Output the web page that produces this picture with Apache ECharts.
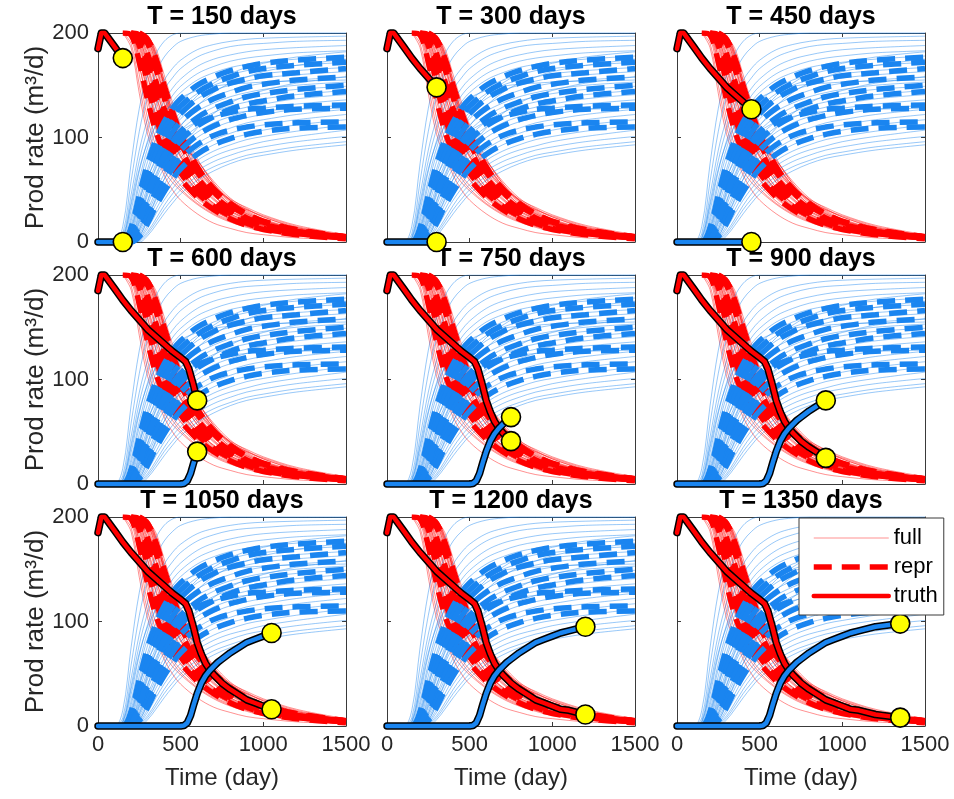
<!DOCTYPE html>
<html>
<head>
<meta charset="utf-8">
<script src="https://cdn.jsdelivr.net/npm/echarts@6/dist/echarts.min.js"></script>
<style>
  html, body { margin: 0; padding: 0; background: #ffffff; }
  #chart { width: 954px; height: 799px; }
</style>
</head>
<body>
<div id="chart"></div>
<script>
// Report times of the nine panels (days)
const panelDays = [150, 300, 450, 600, 750, 900, 1050, 1200, 1350];

// Common time samples of the ensemble members (days)
const tGrid = [0, 100, 150, 200, 250, 300, 350, 400, 450, 500, 600, 700, 800, 900, 1000, 1200, 1500];

// Full ensemble, oil production rate (m3/d)
const oilFull = [
  [200,200,200,190,150,110,85,64,50,40,27,18,13,9,7,4,2],
  [200,200,200,186,142,103,82,68,57,49,36,26,19,14,10,6,3],
  [200,200,200,195,160,118,92,74,61,51,37,27,20,15,11,6,3],
  [200,200,200,198,170,128,98,78,64,54,39,28,21,15,11,7,3],
  [200,200,200,197,168,135,108,87,71,59,42,30,22,16,12,7,3],
  [200,200,200,200,178,140,110,88,72,60,43,31,22,16,12,7,3],
  [200,200,200,200,182,148,118,94,76,63,45,32,23,17,13,8,4],
  [200,200,200,199,176,145,120,99,82,68,48,34,25,18,13,8,4],
  [200,200,200,200,186,152,122,98,80,66,46,33,24,18,13,8,4],
  [200,200,200,200,188,158,130,106,86,71,49,35,25,18,14,8,4],
  [200,200,200,200,190,160,128,102,83,69,50,37,27,20,15,9,4],
  [200,200,200,200,192,165,136,110,90,74,52,37,27,20,15,9,4],
  [200,200,200,200,194,170,142,115,93,76,52,36,26,19,14,8,4],
  [200,200,200,200,195,168,140,116,97,81,57,41,30,22,16,10,5],
  [200,200,200,200,196,175,148,122,100,83,57,40,29,21,16,9,4],
  [200,200,200,200,197,178,152,126,104,86,60,42,30,22,16,10,5],
  [200,200,200,200,198,180,150,120,98,82,60,44,32,24,18,11,5],
  [200,200,200,200,199,184,158,132,108,89,62,44,32,23,17,10,5],
  [200,200,200,200,200,186,160,134,112,94,66,47,34,25,18,11,5],
  [200,200,200,200,200,188,165,140,116,96,65,45,32,23,17,10,4],
  [200,200,200,200,200,190,168,142,118,98,70,50,36,27,20,12,5],
  [200,200,200,200,200,192,172,146,122,102,72,52,38,28,21,12,5],
  [200,200,200,200,200,194,175,150,126,105,75,54,39,29,21,13,6],
  [200,200,200,200,200,195,178,152,124,100,68,48,35,26,19,11,5],
  [200,200,200,200,200,196,180,155,130,108,76,52,36,27,20,12,5],
  [200,200,200,200,200,197,182,154,120,96,78,58,42,32,24,14,6],
  [200,200,200,200,200,198,180,148,115,95,78,56,40,31,25,15,6],
  [200,200,200,200,200,197,176,150,118,97,76,54,41,33,26,16,7],
  [200,200,200,200,200,196,185,160,134,112,80,56,40,30,22,13,6],
  [200,200,200,200,200,194,170,140,112,92,70,52,40,31,24,14,6]
];

// Full ensemble, water production rate (m3/d)
const waterFull = [
  [0,0,15,75,128,160,180,192,198,200,200,200,200,200,200,200,200],
  [0,0,8,58,106,140,162,177,186,192,197,199,200,200,200,200,200],
  [0,0,5,45,88,118,140,155,166,174,184,189,192,194,195,196,197],
  [0,0,3,38,78,108,130,146,157,166,177,183,187,189,190,192,193],
  [0,0,2,30,68,97,119,135,147,156,168,175,179,182,184,186,188],
  [0,0,0,24,60,90,112,128,140,149,161,168,173,176,178,181,183],
  [0,0,0,20,55,84,106,122,134,143,155,162,167,170,172,175,178],
  [0,0,0,16,48,77,98,114,126,135,147,155,160,164,166,169,172],
  [0,0,0,12,42,70,92,108,120,129,142,150,155,158,161,164,167],
  [0,0,0,10,38,66,87,103,115,124,137,145,150,154,157,160,163],
  [0,0,0,8,33,60,81,97,109,118,131,139,145,149,152,155,158],
  [0,0,0,6,28,54,75,91,103,112,125,133,139,143,146,150,153],
  [0,0,0,5,25,50,70,86,98,107,120,129,135,139,142,146,149],
  [0,0,0,4,22,45,65,81,93,102,115,124,130,134,137,141,145],
  [0,0,0,3,18,40,60,76,88,97,110,119,125,129,132,137,141],
  [0,0,0,2,15,35,55,71,83,92,105,114,120,125,128,132,136],
  [0,0,0,1,12,30,49,65,77,87,100,109,115,119,122,127,131],
  [0,0,0,0,10,27,45,60,72,81,94,103,109,114,117,122,127],
  [0,0,0,0,8,23,40,55,67,76,89,98,104,109,112,117,122],
  [0,0,0,0,6,20,36,50,62,71,84,93,99,103,107,112,117],
  [0,0,0,0,4,16,31,45,56,65,78,87,93,98,101,106,112],
  [0,0,0,0,3,13,27,40,51,60,73,82,88,92,96,101,107],
  [0,0,0,0,2,10,22,35,46,55,68,77,83,88,91,96,101],
  [0,0,0,0,1,8,19,31,41,50,63,72,78,83,86,91,96],
  [0,0,0,0,0,6,16,27,37,46,59,68,75,80,83,88,93],
  [0,0,0,2,20,48,72,92,108,121,140,152,161,167,171,177,182],
  [0,0,0,0,12,38,62,82,98,111,130,143,152,158,163,169,175],
  [0,0,0,0,5,22,42,60,76,89,109,123,133,140,145,152,158],
  [0,0,4,35,70,95,112,124,132,138,145,149,151,152,153,154,155],
  [0,0,0,14,40,62,78,90,99,106,115,120,123,125,126,127,128]
];

// Representative members, oil rate (m3/d)
const oilRepr = [
  [200,200,200,200,188,150,120,96,79,66,47,34,25,18,13,8,4],
  [200,200,200,200,194,168,138,112,92,77,55,40,29,21,16,9,4],
  [200,200,200,200,198,180,154,128,106,88,62,44,32,23,17,10,5],
  [200,200,200,198,172,136,106,86,71,60,43,31,22,16,12,7,3],
  [200,200,200,200,200,190,166,138,114,95,67,48,35,26,19,11,5],
  [200,200,200,200,196,176,148,122,100,84,58,41,30,22,16,10,4],
  [200,200,200,200,200,194,176,150,125,104,72,51,37,27,20,12,5],
  [200,200,200,200,190,160,130,105,86,72,51,37,27,20,15,9,4]
];

// Representative members, water rate (m3/d)
const waterRepr = [
  [0,0,0,14,45,75,98,115,128,137,150,158,164,168,171,174,177],
  [0,0,0,10,40,68,90,107,120,130,143,152,158,163,166,169,172],
  [0,0,0,8,34,62,84,101,114,123,137,146,152,156,159,162,166],
  [0,0,0,5,28,55,76,92,105,115,128,137,143,148,151,155,158],
  [0,0,0,3,22,46,67,83,96,106,119,128,134,139,142,146,150],
  [0,0,0,2,16,38,58,74,87,97,111,120,127,132,135,140,144],
  [0,0,0,0,12,30,49,65,78,88,102,111,117,121,124,127,128],
  [0,0,0,0,8,24,42,57,70,80,93,102,107,110,112,114,115],
  [0,0,0,0,5,18,34,48,60,70,84,93,99,103,106,109,110],
  [0,0,0,2,20,45,66,82,94,103,114,120,124,127,128,130,131]
];

// Reference (truth) production history
const truthOilT = [0, 20, 40, 100, 150, 200, 300, 400, 450, 500, 530, 550, 575, 600, 625, 650, 675, 700, 725, 750, 800, 850, 900, 950, 1000, 1050, 1100, 1200, 1350, 1500];
const truthOilV = [185, 200, 200, 187, 176, 166, 148, 134, 127, 121, 117, 110, 96, 80, 69, 60, 54, 49, 45, 41, 35, 30, 25, 22, 19, 16, 15, 11, 8, 6];
const truthWaterT = [0, 150, 300, 450, 500, 520, 540, 560, 580, 600, 625, 650, 675, 700, 725, 750, 800, 850, 900, 950, 1000, 1050, 1100, 1200, 1350, 1500];
const truthWaterV = [0, 0, 0, 0, 0, 0.5, 3, 10, 21, 31, 41, 48, 53, 57, 61, 64, 70, 75, 80, 83, 86, 89, 91, 95, 98, 100];

const xTicks = { min: 0, max: 1500, interval: 500 };
const yTicks = { min: 0, max: 200, interval: 100 };

const FONT = '"Liberation Sans", Arial, Helvetica, sans-serif';
const RED = '#ff0000';
const BLUE = '#1a85f0';
const AXIS = '#3a3a3a';
const TEXT = '#262626';
const DASH = [18, 10];

const colLeft = [98, 387, 677];
const rowTop = [33, 275, 517];
const PW = 248, PH = 209;

const grids = [], xAxes = [], yAxes = [], series = [];

function frameAxis(extra) {
  return Object.assign({
    type: 'value',
    axisLine: { show: true, onZero: false, lineStyle: { color: AXIS, width: 1 } },
    axisTick: { show: true, inside: true, length: 4, lineStyle: { color: AXIS, width: 1 } },
    splitLine: { show: false },
    axisLabel: { show: false }
  }, extra);
}

function pairs(ts, vs) { return ts.map((t, i) => [t, vs[i]]); }
// oil members: drawn from the end of their initial 200 m3/d plateau
function fromPlateauEnd(ts, vs) {
  let s = 0;
  while (s + 1 < vs.length && vs[s + 1] === vs[0]) s++;
  return ts.slice(s).map((t, i) => [t, vs[s + i]]);
}
function upTo(ts, vs, T) {
  const out = [];
  ts.forEach((t, i) => { if (t <= T) out.push([t, vs[i]]); });
  return out;
}
function valueAt(ts, vs, T) { return vs[ts.indexOf(T)]; }
const plainNumber = v => String(v);

panelDays.forEach((T, k) => {
  const r = Math.floor(k / 3), c = k % 3;
  grids.push({ left: colLeft[c], top: rowTop[r], width: PW, height: PH, containLabel: false });

  // bottom x axis
  xAxes.push(frameAxis({
    gridIndex: k, position: 'bottom', min: xTicks.min, max: xTicks.max, interval: xTicks.interval,
    axisLabel: { show: r === 2, color: TEXT, fontFamily: FONT, fontSize: 22, margin: 8,
                 formatter: plainNumber, showMinLabel: true, showMaxLabel: true },
    name: r === 2 ? 'Time (day)' : '',
    nameLocation: 'middle', nameGap: 40,
    nameTextStyle: { color: TEXT, fontFamily: FONT, fontSize: 24 }
  }));
  // top x axis carries the panel title
  xAxes.push(frameAxis({
    gridIndex: k, position: 'top', min: xTicks.min, max: xTicks.max, interval: xTicks.interval,
    name: 'T = ' + T + ' days', nameLocation: 'middle', nameGap: 3,
    nameTextStyle: { color: '#000', fontFamily: FONT, fontSize: 25, fontWeight: 'bold' }
  }));
  // left y axis
  yAxes.push(frameAxis({
    gridIndex: k, position: 'left', min: yTicks.min, max: yTicks.max, interval: yTicks.interval,
    axisLabel: { show: c === 0, color: TEXT, fontFamily: FONT, fontSize: 22, margin: 9,
                 formatter: plainNumber },
    name: c === 0 ? 'Prod rate (m³/d)' : '',
    nameLocation: 'middle', nameGap: 48,
    nameTextStyle: { color: TEXT, fontFamily: FONT, fontSize: 26 }
  }));
  // right y axis
  yAxes.push(frameAxis({
    gridIndex: k, position: 'right', min: yTicks.min, max: yTicks.max, interval: yTicks.interval
  }));

  const xi = 2 * k, yi = 2 * k;
  const base = { type: 'line', xAxisIndex: xi, yAxisIndex: yi, symbol: 'none', silent: true,
                 animation: false, smooth: 0.35 };

  oilFull.forEach(m => series.push(Object.assign({}, base, {
    name: 'full', data: fromPlateauEnd(tGrid, m), z: 2,
    itemStyle: { color: RED, opacity: 0 },
    lineStyle: { color: RED, width: 0.8, opacity: 0.55 }
  })));
  waterFull.forEach(m => series.push(Object.assign({}, base, {
    name: 'full water', data: pairs(tGrid, m), z: 2,
    itemStyle: { color: BLUE, opacity: 0 },
    lineStyle: { color: BLUE, width: 0.9, opacity: 0.5 }
  })));
  oilRepr.forEach(m => series.push(Object.assign({}, base, {
    name: 'repr', data: fromPlateauEnd(tGrid, m), z: 3,
    itemStyle: { color: RED, opacity: 0 },
    lineStyle: { color: RED, width: 5.5, type: DASH, cap: 'butt' }
  })));
  waterRepr.forEach(m => series.push(Object.assign({}, base, {
    name: 'repr water', data: pairs(tGrid, m), z: 3,
    itemStyle: { color: BLUE, opacity: 0 },
    lineStyle: { color: BLUE, width: 5.5, type: DASH, cap: 'butt' }
  })));

  const oilHist = upTo(truthOilT, truthOilV, T);
  const waterHist = upTo(truthWaterT, truthWaterV, T);
  const truthBase = Object.assign({}, base, { smooth: false, clip: false });

  series.push(Object.assign({}, truthBase, {
    name: 'truth', data: oilHist, z: 5,
    itemStyle: { color: RED, opacity: 0 },
    lineStyle: { color: RED, width: 4.5, join: 'round', cap: 'round' }
  }));
  series.push(Object.assign({}, truthBase, {
    name: 'truth edge', data: oilHist, z: 4,
    lineStyle: { color: '#000', width: 7.5, join: 'round', cap: 'round' }
  }));
  series.push(Object.assign({}, truthBase, {
    name: 'truth water edge', data: waterHist, z: 6,
    lineStyle: { color: '#000', width: 7.5, join: 'round', cap: 'round' }
  }));
  series.push(Object.assign({}, truthBase, {
    name: 'truth water', data: waterHist, z: 7,
    lineStyle: { color: BLUE, width: 4.5, join: 'round', cap: 'round' }
  }));

  series.push({
    type: 'scatter', name: 'observed', xAxisIndex: xi, yAxisIndex: yi, silent: true,
    animation: false, clip: false, z: 8,
    symbol: 'circle', symbolSize: 19,
    itemStyle: { color: '#ffff00', borderColor: '#000', borderWidth: 1.6, opacity: 1 },
    data: [[T, valueAt(truthOilT, truthOilV, T)], [T, valueAt(truthWaterT, truthWaterV, T)]]
  });
});

const chart = echarts.init(document.getElementById('chart'), null, { renderer: 'canvas' });
chart.setOption({
  backgroundColor: '#ffffff',
  animation: false,
  textStyle: { fontFamily: FONT },
  grid: grids,
  xAxis: xAxes,
  yAxis: yAxes,
  legend: {
    data: ['full', 'repr', 'truth'],
    orient: 'vertical',
    left: 799, top: 518,
    itemWidth: 75, itemHeight: 14, itemGap: 5,
    padding: [8, 6, 7, 12],
    backgroundColor: '#ffffff',
    borderColor: AXIS, borderWidth: 1, borderRadius: 0,
    selectedMode: false,
    itemStyle: { opacity: 0 },
    lineStyle: { width: 'inherit', type: 'inherit', opacity: 'inherit' },
    z: 20,
    textStyle: { color: '#000', fontFamily: FONT, fontSize: 22, lineHeight: 24 }
  },
  series: series
});
</script>
</body>
</html>
